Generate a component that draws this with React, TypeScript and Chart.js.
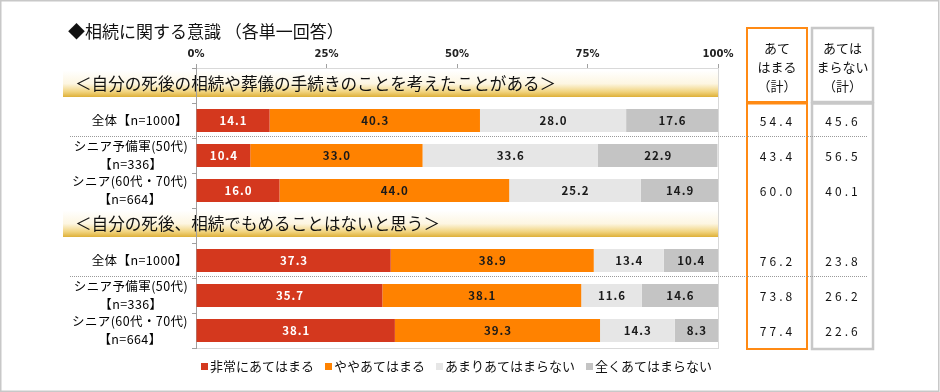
import React, { useEffect, useRef } from 'react';
import { Chart, registerables } from 'chart.js';

Chart.register(...registerables);

const chartTitle = '◆相続に関する意識 （各単一回答）';
const sectionTitles = [
  '＜自分の死後の相続や葬儀の手続きのことを考えたことがある＞',
  '＜自分の死後、相続でもめることはないと思う＞',
];
const groupLabels = [
  ['全体【n=1000】'],
  ['シニア予備軍(50代)', '【n=336】'],
  ['シニア(60代・70代)', '【n=664】'],
];
const seriesNames = ['非常にあてはまる', 'ややあてはまる', 'あまりあてはまらない', '全くあてはまらない'];
const seriesColors = ['#d4381e', '#ff8200', '#e6e6e6', '#c4c4c4'];
const seriesTextColors = ['#ffffff', '#1a1a1a', '#1a1a1a', '#1a1a1a'];

const veryTrue = [14.1, 10.4, 16.0, 37.3, 35.7, 38.1];
const somewhatTrue = [40.3, 33.0, 44.0, 38.9, 38.1, 39.3];
const notVeryTrue = [28.0, 33.6, 25.2, 13.4, 11.6, 14.3];
const notAtAllTrue = [17.6, 22.9, 14.9, 10.4, 14.6, 8.3];

const totalTrue = [54.4, 43.4, 60.0, 76.2, 73.8, 77.4];
const totalFalse = [45.6, 56.5, 40.1, 23.8, 26.2, 22.6];
const totalTrueHeader = ['あて', 'はまる', '（計）'];
const totalFalseHeader = ['あては', 'まらない', '（計）'];

const xTickStep = 25;

type Slot = { type: 'section'; text: string } | { type: 'row'; label: string[]; idx: number };

const slots: Slot[] = [];
sectionTitles.forEach((t, s) => {
  slots.push({ type: 'section', text: t });
  groupLabels.forEach((g, gi) => slots.push({ type: 'row', label: g, idx: s * groupLabels.length + gi }));
});

const allSeries = [veryTrue, somewhatTrue, notVeryTrue, notAtAllTrue];
const JP = '"Noto Sans CJK JP", "Noto Sans", sans-serif';

const decorPlugin = {
  id: 'decor',
  beforeDraw(chart: any) {
    const ctx = chart.ctx as CanvasRenderingContext2D;
    const area = chart.chartArea;
    const y = chart.scales.y;
    ctx.save();
    // outer frame
    ctx.strokeStyle = '#c8c8c8';
    ctx.lineWidth = 1.5;
    ctx.strokeRect(0.75, 0.75, chart.width - 2, chart.height - 1.5);
    // title
    ctx.fillStyle = '#111';
    ctx.font = `17px ${JP}`;
    ctx.textBaseline = 'middle';
    ctx.textAlign = 'left';
    ctx.fillText(chartTitle, 68, 32);
    // plot frame
    ctx.strokeStyle = '#d9d9d9';
    ctx.lineWidth = 1;
    ctx.strokeRect(area.left + 0.5, area.top + 0.5, area.right - area.left, area.bottom - area.top);
    // section header bands
    slots.forEach((s, i) => {
      if (s.type !== 'section') return;
      const cy = y.getPixelForValue(i);
      const top = cy - 15;
      const bot = cy + 11.5;
      const g = ctx.createLinearGradient(0, top, 0, bot);
      g.addColorStop(0, 'rgba(255,255,255,1)');
      g.addColorStop(0.5, '#fdf6e2');
      g.addColorStop(0.8, '#f1d480');
      g.addColorStop(1, '#deb038');
      ctx.fillStyle = g;
      ctx.fillRect(63, top, area.right - 63, bot - top);
      ctx.fillStyle = '#111';
      ctx.font = `16.6px ${JP}`;
      ctx.textBaseline = 'middle';
      ctx.textAlign = 'left';
      ctx.fillText(s.text, 75, cy - 2);
    });
    ctx.restore();
  },
  afterDraw(chart: any) {
    const ctx = chart.ctx as CanvasRenderingContext2D;
    const area = chart.chartArea;
    const y = chart.scales.y;
    ctx.save();
    // left row labels
    ctx.fillStyle = '#000';
    ctx.font = `12.5px ${JP}`;
    (ctx as any).letterSpacing = '0.4px';
    ctx.textBaseline = 'middle';
    const labelRight = area.left - 8;
    slots.forEach((s, i) => {
      if (s.type !== 'row') return;
      const cy = y.getPixelForValue(i);
      if (s.label.length === 1) {
        ctx.textAlign = 'right';
        ctx.fillText(s.label[0], labelRight, cy);
      } else {
        const w = Math.max(...s.label.map((l) => ctx.measureText(l).width));
        const cx = labelRight - w / 2;
        ctx.textAlign = 'center';
        ctx.fillText(s.label[0], cx, cy - 9);
        ctx.fillText(s.label[1], cx, cy + 9);
      }
    });

    // bar value labels
    (ctx as any).letterSpacing = '1px';
    ctx.font = `bold 11.5px ${JP}`;
    ctx.textAlign = 'center';
    chart.data.datasets.forEach((ds: any, di: number) => {
      const meta = chart.getDatasetMeta(di);
      meta.data.forEach((el: any, j: number) => {
        const v = ds.data[j];
        if (v === null || v === undefined) return;
        ctx.fillStyle = seriesTextColors[di];
        ctx.fillText(v.toFixed(1), (el.x + el.base) / 2 + 0.5, el.y + 0.5);
      });
    });
    (ctx as any).letterSpacing = '0px';

    // right boxes
    const boxes = [
      { x: area.right + 29, w: 60, color: '#ff8a14', head: totalTrueHeader, vals: totalTrue, lw: 2 },
      { x: area.right + 94, w: 61, color: '#c8c8c8', head: totalFalseHeader, vals: totalFalse, lw: 2.5 },
    ];
    const headTop = 28;
    const headBot = area.top + 34;
    boxes.forEach((b) => {
      ctx.strokeStyle = b.color;
      ctx.lineWidth = b.lw;
      ctx.strokeRect(b.x, headTop, b.w, headBot - headTop);
      ctx.strokeRect(b.x, headBot + 1.5, b.w, area.bottom + 1 - headBot - 1.5);
      const cx = b.x + b.w / 2;
      ctx.fillStyle = '#111';
      ctx.font = `13px ${JP}`;
      ctx.textAlign = 'center';
      ctx.textBaseline = 'middle';
      b.head.forEach((t, k) => ctx.fillText(t, cx, 48 + k * 19));
      (ctx as any).letterSpacing = '3px';
      ctx.font = `12px ${JP}`;
      slots.forEach((s, i) => {
        if (s.type !== 'row') return;
        ctx.fillText(b.vals[s.idx].toFixed(1), cx + 0.5, y.getPixelForValue(i) + 1);
      });
      (ctx as any).letterSpacing = '0px';
    });

    // dotted separators after the first row of each section
    ctx.strokeStyle = '#9a9a9a';
    ctx.lineWidth = 1;
    ctx.setLineDash([1, 1]);
    slots.forEach((s, i) => {
      if (s.type !== 'section') return;
      const yy = Math.round((y.getPixelForValue(i + 1) + y.getPixelForValue(i + 2)) / 2) - 1.5;
      ctx.beginPath();
      ctx.moveTo(70, yy);
      ctx.lineTo(area.right + 150, yy);
      ctx.stroke();
    });
    ctx.setLineDash([]);

    // legend
    ctx.font = `13px ${JP}`;
    ctx.textAlign = 'left';
    ctx.textBaseline = 'middle';
    let lx = area.left + 5;
    const ly = area.bottom + 18.5;
    chart.data.datasets.forEach((ds: any) => {
      ctx.fillStyle = ds.backgroundColor;
      ctx.fillRect(lx, ly - 3.5, 7, 7);
      ctx.fillStyle = '#111';
      ctx.fillText(ds.label, lx + 9, ly);
      lx += 9 + ctx.measureText(ds.label).width + 11;
    });
    ctx.restore();
  },
};

export default function App() {
  const ref = useRef<HTMLCanvasElement | null>(null);
  useEffect(() => {
    if (!ref.current) return;
    const chart = new Chart(ref.current, {
      type: 'bar',
      data: {
        labels: slots.map((s) => (s.type === 'row' ? s.label.join(' ') : s.text)),
        datasets: seriesNames.map((name, di) => ({
          label: name,
          data: slots.map((s) => (s.type === 'row' ? allSeries[di][s.idx] : null)),
          backgroundColor: seriesColors[di],
          borderWidth: 0,
          barPercentage: 0.66,
          categoryPercentage: 1,
        })),
      },
      options: {
        indexAxis: 'y',
        responsive: false,
        animation: false,
        events: [],
        layout: { padding: { left: 186, right: 222, top: 38, bottom: 44 } },
        plugins: { legend: { display: false }, tooltip: { enabled: false } },
        scales: {
          x: {
            stacked: true,
            position: 'top',
            min: 0,
            max: 100,
            afterFit: (s: any) => { s.height = 30; },
            ticks: {
              stepSize: xTickStep,
              padding: 4,
              color: '#222',
              font: { family: '"DejaVu Sans", sans-serif', size: 10, weight: 'bold' },
              callback: (v: any) => `${v}%`,
            },
            grid: { drawOnChartArea: false, tickLength: 4, color: '#a0a0a0' },
            border: { color: '#d9d9d9' },
          },
          y: {
            stacked: true,
            afterFit: (s: any) => { s.width = 10; },
            ticks: { display: false },
            grid: { offset: true, drawOnChartArea: false, tickLength: 4, color: '#a0a0a0' },
            border: { color: '#a0a0a0' },
          },
        },
      },
      plugins: [decorPlugin],
    } as any);
    return () => chart.destroy();
  }, []);
  return (
    <div style={{ position: 'absolute', left: 0, top: 0, width: 940, height: 392, background: '#fff' }}>
      <canvas ref={ref} width={940} height={392} style={{ display: 'block', width: 940, height: 392 }} />
    </div>
  );
}
